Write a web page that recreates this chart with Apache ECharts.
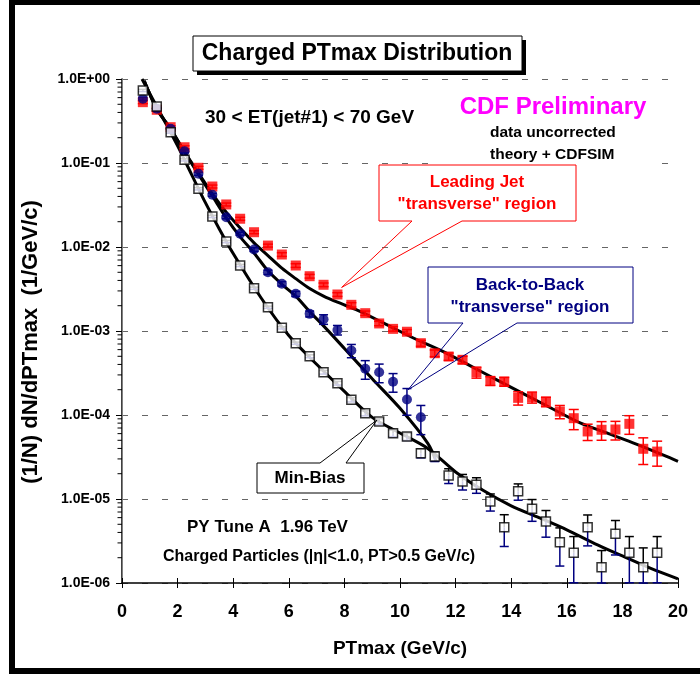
<!DOCTYPE html>
<html><head><meta charset="utf-8">
<script src="https://cdn.jsdelivr.net/npm/echarts@6/dist/echarts.min.js"></script>
<style>html,body{margin:0;padding:0;background:#fff}#c{width:700px;height:674px}</style>
</head><body><div id="c"></div>
<script>
// ---- data ----
const ptBins = [0.75,1.25,1.75,2.25,2.75,3.25,3.75,4.25,4.75,5.25,5.75,6.25,6.75,7.25,7.75,8.25,8.75,9.25,9.75,10.25,
  10.75,11.25,11.75,12.25,12.75,13.25,13.75,14.25,14.75,15.25,15.75,16.25,16.75,17.25,17.75,18.25,18.75,19.25];
const leadJet = [0.53,0.43,0.267,0.154,0.0877,0.0525,0.0321,0.0217,0.0150,0.0104,0.00814,0.00602,0.00449,0.00355,0.00272,
  0.00205,0.00163,0.00123,0.00106,0.00098,0.000716,0.000544,0.000497,0.000454,0.000323,0.000255,0.000250,0.000160,0.000163,
  0.000144,0.000110,0.0000916,0.0000637,0.0000667,0.0000672,0.0000785,0.0000396,0.0000367];
const leadJetErr = [0.04,0.04,0.04,0.04,0.04,0.04,0.04,0.04,0.04,0.04,0.05,0.05,0.05,0.05,0.05,0.06,0.06,0.06,0.06,0.06,
  0.08,0.09,0.10,0.10,0.15,0.12,0.12,0.18,0.15,0.13,0.18,0.27,0.22,0.25,0.25,0.25,0.35,0.33];
const backToBack = [0.581,0.442,0.255,0.138,0.0743,0.0418,0.0226,0.0144,0.00933,0.00501,0.00365,0.00277,0.00160,0.00138,
  0.00103,0.000586,0.000355,0.000323,0.000249,0.000153,0.0000941];
const backToBackErr = [0.04,0.04,0.04,0.04,0.04,0.04,0.04,0.04,0.05,0.06,0.06,0.07,0.08,0.13,0.13,0.18,0.25,0.25,0.25,0.35,0.38];
const minBias = [0.730,0.471,0.233,0.109,0.0493,0.0231,0.0116,0.00602,0.00323,0.00192,0.00109,0.000716,0.000501,0.000323,
  0.000239,0.000152,0.000105,0.0000837,0.0000607,0.0000554,0.0000351,0.0000321,0.0000191,0.0000162,0.0000148,0.00000933,
  0.00000461,0.0000124,0.00000764,0.0000054,0.00000306,0.00000229,0.00000461,0.00000154,0.00000385,0.00000229,0.00000154,0.00000229];
const minBiasErr = [0.03,0.03,0.03,0.03,0.03,0.03,0.03,0.03,0.03,0.03,0.03,0.03,0.04,0.05,0.05,0.06,0.07,0.08,
  0.09,0.10,0.12,0.13,0.20,0.21,0.21,0.23,0.41,0.22,0.29,0.35,0.48,0.56,0.40,0.58,0.44,0.56,0.70,0.56];
// theory curves (PY Tune A + CDFSIM)
const ljTheoryX = [0.8,1.25,1.75,2.25,2.75,3.25,3.75,4.25,4.75,5.25,5.75,6.25,6.75,7.25,7.75,8.5,9.5,10.5,11.5,12.5,13.5,14.5,15.5,16.5,17.5,18.5,19.5,20];
const ljTheoryY = [0.95,0.44,0.255,0.136,0.076,0.043,0.026,0.0168,0.0112,0.0079,0.0056,0.0042,0.0032,0.0026,0.0022,0.00175,
  0.0012,0.00082,0.00058,0.00039,0.00026,0.000175,0.000118,0.000080,0.000060,0.000045,0.000033,0.000028];
const bbTheoryX = [0.8,1.25,1.75,2.25,2.75,3.25,3.75,4.25,4.75,5.25,5.75,6.25,6.75,7.25,8,9,10,11,11.3];
const bbTheoryY = [0.95,0.44,0.255,0.134,0.0735,0.0405,0.0222,0.0132,0.0085,0.0052,0.0036,0.0026,0.0017,0.00115,
  0.00062,0.00027,0.00012,0.000046,0.000028];
const mbTheoryX = [0.72,1,1.5,2,2.5,3,3.5,4,5,6,7,8,9,10,11,12,13,14,15,16,17,18,19,20];
const mbTheoryY = [1.0,0.67,0.33,0.16,0.0733,0.0337,0.0164,0.00836,0.00249,0.000883,0.000402,0.000191,0.0000937,
  0.0000610,0.0000400,0.0000210,0.0000126,0.0000083,0.0000060,0.0000043,0.00000295,0.0000021,0.0000015,0.00000112];
// axis
const xTickStep = 2, xMin = 0, xMax = 20;
const yMin = 1e-6, yMax = 1;
// callout targets [x, y]
const calloutLJ = [7.9, 3.3e-3];
const calloutBB = [10.29, 2.0e-4];
const calloutMB = [9.17, 8.7e-5];

const FONT = 'Liberation Sans, Arial, sans-serif';
const NAVY = '#000080';

function sciLabel(v){
  const e = Math.round(Math.log10(v));
  const a = Math.abs(e);
  return '1.0E' + (e < 0 ? '-' : '+') + (a < 10 ? '0' : '') + a;
}

function errSeries(xs, vs, rs, upColor, lowColor, cap, z){
  return {
    type: 'custom', z: z, silent: true,
    data: vs.map((v, i) => [xs[i], v, rs[i]]),
    renderItem(params, api){
      const x = api.value(0), v = api.value(1), r = api.value(2);
      const cs = params.coordSys;
      const c = api.coord([x, v]);
      const t = api.coord([x, v * (1 + r)]);
      const b = api.coord([x, Math.max(v * (1 - r), 1e-12)]);
      const by = Math.min(b[1], cs.y + cs.height);
      const h = cap / 2;
      return {type: 'group', children: [
        {type: 'line', shape: {x1: c[0], y1: c[1], x2: t[0], y2: t[1]}, style: {stroke: upColor, lineWidth: 1.5}},
        {type: 'line', shape: {x1: c[0] - h, y1: t[1], x2: c[0] + h, y2: t[1]}, style: {stroke: upColor, lineWidth: 1.5}},
        {type: 'line', shape: {x1: c[0], y1: c[1], x2: c[0], y2: by}, style: {stroke: lowColor, lineWidth: 1.5}},
        {type: 'line', shape: {x1: c[0] - h, y1: by, x2: c[0] + h, y2: by}, style: {stroke: lowColor, lineWidth: 1.5}}
      ]};
    }
  };
}

const minorVals = [];
for (let e = -6; e < 0; e++) for (let k = 2; k <= 9; k++) minorVals.push(k * Math.pow(10, e));

const chart = echarts.init(document.getElementById('c'), null, {renderer: 'canvas'});
const option = {
  animation: false,
  backgroundColor: '#fff',
  grid: {left: 122, right: 22, top: 79, bottom: 91},
  xAxis: [{
    type: 'value', min: xMin, max: xMax, interval: xTickStep,
    name: 'PTmax (GeV/c)', nameLocation: 'middle', nameGap: 56,
    nameTextStyle: {fontFamily: FONT, fontWeight: 'bold', fontSize: 19, color: '#000'},
    axisLine: {lineStyle: {color: '#000', width: 1.5}},
    axisTick: {length: 5, lineStyle: {color: '#000', width: 1}},
    axisLabel: {fontFamily: FONT, fontWeight: 'bold', fontSize: 18, color: '#000', margin: 20},
    splitLine: {show: false}
  }, {
    type: 'value', min: xMin, max: xMax, interval: xTickStep, position: 'bottom',
    axisLine: {show: false}, axisLabel: {show: false}, splitLine: {show: false},
    axisTick: {inside: true, length: 5, lineStyle: {color: '#000', width: 1}}
  }],
  yAxis: [{
    type: 'log', logBase: 10, min: yMin, max: yMax, splitNumber: 6,
    axisLine: {show: true, lineStyle: {color: '#000', width: 1.5}},
    axisTick: {show: true, length: 6, lineStyle: {color: '#000', width: 1}},
    axisLabel: {fontFamily: FONT, fontWeight: 'bold', fontSize: 14, color: '#000', margin: 12, formatter: sciLabel},
    splitLine: {show: true, lineStyle: {color: '#666', width: 1.2, type: [6, 14]}}
  }, {
    type: 'value', position: 'right', min: 0, max: 1,
    axisLine: {show: true, lineStyle: {color: '#808080', width: 1}},
    axisTick: {show: false}, axisLabel: {show: false}, splitLine: {show: false}
  }],
  series: [
    {type: 'custom', silent: true, z: 5, clip: false, data: minorVals.map(v => [0, v]),
      renderItem(params, api){
        const p = api.coord([api.value(0), api.value(1)]);
        return {type: 'line', shape: {x1: p[0] - 4.5, y1: p[1], x2: p[0], y2: p[1]}, style: {stroke: '#000', lineWidth: 1}};
      }},
    {type: 'line', name: 'LJ theory', data: ljTheoryX.map((x, i) => [x, ljTheoryY[i]]), smooth: 0.3, symbol: 'none',
      lineStyle: {color: '#000', width: 3}, z: 2},
    {type: 'line', name: 'B2B theory', data: bbTheoryX.map((x, i) => [x, bbTheoryY[i]]), smooth: 0.3, symbol: 'none',
      lineStyle: {color: '#000', width: 3}, z: 2},
    {type: 'line', name: 'MB theory', data: mbTheoryX.map((x, i) => [x, mbTheoryY[i]]), smooth: 0.3, symbol: 'none',
      lineStyle: {color: '#000', width: 3}, z: 2},
    errSeries(ptBins, leadJet, leadJetErr, '#ff0000', '#ff0000', 10, 3),
    errSeries(ptBins, backToBack, backToBackErr, NAVY, NAVY, 9, 3),
    errSeries(ptBins, minBias, minBiasErr, '#000', NAVY, 9, 3),
    {type: 'scatter', name: 'Leading Jet', data: ptBins.map((x, i) => [x, leadJet[i]]), symbol: 'rect', symbolSize: 10,
      itemStyle: {color: '#ff0000'}, z: 4},
    {type: 'scatter', name: 'Back-to-Back', data: backToBack.map((v, i) => [ptBins[i], v]), symbol: 'circle', symbolSize: 10,
      itemStyle: {color: NAVY}, z: 5},
    {type: 'scatter', name: 'Min-Bias', data: ptBins.map((x, i) => [x, minBias[i]]), symbol: 'rect', symbolSize: 9,
      itemStyle: {color: '#fff', borderColor: '#000', borderWidth: 1.5}, z: 6}
  ]
};
chart.setOption(option);

const px = v => chart.convertToPixel({gridIndex: 0}, v);
function txt(text, x, y, size, color, align){
  return {type: 'text', z: 100, style: {text: text, x: x, y: y, fill: color || '#000', align: align || 'center',
    verticalAlign: 'middle', font: 'bold ' + size + 'px ' + FONT}};
}
function callout(box, wedge, tip, color){
  const [x0, y0, x1, y1] = box;
  let pts;
  if (wedge.edge === 'bottom') pts = [[x0,y0],[x1,y0],[x1,y1],[wedge.b,y1],tip,[wedge.a,y1],[x0,y1]];
  else pts = [[x0,y0],[wedge.a,y0],tip,[wedge.b,y0],[x1,y0],[x1,y1],[x0,y1]];
  return [
    {type: 'rect', z: 99, shape: {x: x0, y: y0, width: x1 - x0, height: y1 - y0}, style: {fill: '#fff'}},
    {type: 'polygon', z: 100, shape: {points: pts}, style: {fill: 'none', stroke: color, lineWidth: 1}}
  ];
}
const tLJ = px(calloutLJ), tBB = px(calloutBB), tMB = px(calloutMB);
chart.setOption({graphic: [
  // outer frame
  {type: 'rect', z: 100, shape: {x: 9, y: 0, width: 6, height: 674}, style: {fill: '#000'}},
  {type: 'rect', z: 100, shape: {x: 9, y: 0, width: 691, height: 5}, style: {fill: '#000'}},
  {type: 'rect', z: 100, shape: {x: 9, y: 668, width: 691, height: 6}, style: {fill: '#000'}},
  // title box with shadow
  {type: 'rect', z: 100, shape: {x: 197, y: 40, width: 329, height: 35}, style: {fill: '#000'}},
  {type: 'rect', z: 101, shape: {x: 193, y: 36, width: 329, height: 35}, style: {fill: '#fff', stroke: '#000', lineWidth: 1}},
  Object.assign(txt('Charged PTmax Distribution', 357, 54, 23), {z: 102}),
  // y axis title
  {type: 'text', z: 100, x: 31, y: 342, rotation: Math.PI / 2,
    style: {text: '(1/N) dN/dPTmax  (1/GeV/c)', x: 0, y: 0, align: 'center', verticalAlign: 'middle',
      fill: '#000', font: 'bold 22px ' + FONT}},
  // header texts
  {type: 'rect', z: 99, shape: {x: 440, y: 88, width: 213, height: 78}, style: {fill: '#fff'}},
  txt('30 < ET(jet#1) < 70 GeV', 205, 118, 19, '#000', 'left'),
  txt('CDF Preliminary', 553, 107, 24, '#ff00ff'),
  txt('data uncorrected', 490, 133, 15.5, '#000', 'left'),
  txt('theory + CDFSIM', 490, 155, 15.5, '#000', 'left'),
  txt('PY Tune A  1.96 TeV', 187, 527, 17, '#000', 'left'),
  txt('Charged Particles (|\u03b7|<1.0, PT>0.5 GeV/c)', 163, 557, 16, '#000', 'left'),
  // callouts
  ...callout([379,165,576,221], {edge: 'bottom', a: 412, b: 462}, tLJ, '#ff0000'),
  txt('Leading Jet', 477, 182, 17, '#ff0000'),
  txt('"transverse" region', 477, 204, 17, '#ff0000'),
  ...callout([428,267,633,323], {edge: 'bottom', a: 463, b: 517}, tBB, NAVY),
  txt('Back-to-Back', 530, 285, 17, NAVY),
  txt('"transverse" region', 530, 307, 17, NAVY),
  ...callout([257,463,364,493], {edge: 'top', a: 320, b: 346}, tMB, '#000'),
  txt('Min-Bias', 310, 478, 17)
]});
</script></body></html>
